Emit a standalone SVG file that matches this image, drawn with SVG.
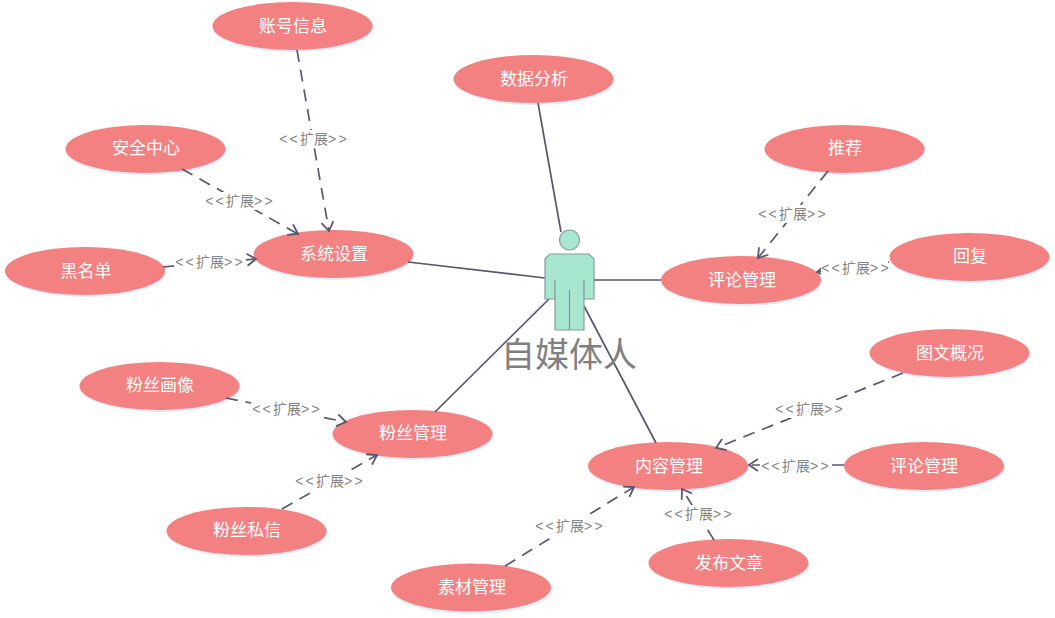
<svg xmlns="http://www.w3.org/2000/svg" width="1055" height="618" viewBox="0 0 1055 618">
<style>
.n ellipse.s{fill:#dfecf9}
.n ellipse.b{fill:#f48181}
.n text{font:17px "Noto Sans CJK SC","Liberation Sans",sans-serif;fill:#fff;text-anchor:middle}
.l{stroke:#5b5670;stroke-width:1.7;fill:none}
.d{stroke-dasharray:12 8}
.e{marker-end:url(#a)}
.t rect{fill:#fff}
.t text{font:14px "Liberation Sans","Noto Sans CJK SC",sans-serif;fill:#858585;text-anchor:middle}
.t tspan{letter-spacing:2.2px}
#actor .f{fill:#a7e6cf;stroke:#8a9a9e;stroke-width:1.2}
#actor .i{fill:none;stroke:#8a8f9e;stroke-width:1.2}
#actor text{font:34px "Noto Sans CJK SC","Liberation Sans",sans-serif;fill:#808080;text-anchor:middle}
</style>
<defs>
<marker id="a" markerUnits="userSpaceOnUse" markerWidth="16" markerHeight="16" refX="12" refY="8" orient="auto">
<path d="M3 2L12 8L3 14" fill="none" stroke="#5b5670" stroke-width="1.8"/>
</marker>
</defs>
<g id="n1" class="n"><ellipse class="s" cx="293" cy="28" rx="80" ry="24"/><ellipse class="b" cx="292.500" cy="26" rx="80" ry="24"/><text x="293" y="32">账号信息</text></g>
<g id="n2" class="n"><ellipse class="s" cx="534.500" cy="81" rx="80" ry="24"/><ellipse class="b" cx="533.500" cy="79" rx="80" ry="24"/><text x="534" y="85">数据分析</text></g>
<g id="n3" class="n"><ellipse class="s" cx="146" cy="151" rx="80" ry="24"/><ellipse class="b" cx="145.500" cy="149" rx="80" ry="24"/><text x="146" y="154">安全中心</text></g>
<g id="n4" class="n"><ellipse class="s" cx="845.500" cy="151" rx="80" ry="24"/><ellipse class="b" cx="844.500" cy="149" rx="80" ry="24"/><text x="845" y="154">推荐</text></g>
<g id="n5" class="n"><ellipse class="s" cx="334" cy="256" rx="80" ry="24"/><ellipse class="b" cx="333.500" cy="254" rx="80" ry="24"/><text x="334" y="260">系统设置</text></g>
<g id="n6" class="n"><ellipse class="s" cx="86" cy="273" rx="80" ry="24"/><ellipse class="b" cx="85" cy="271" rx="80" ry="24"/><text x="86" y="277">黑名单</text></g>
<g id="n7" class="n"><ellipse class="s" cx="970" cy="259" rx="80" ry="24"/><ellipse class="b" cx="969.500" cy="257" rx="80" ry="24"/><text x="970" y="262">回复</text></g>
<g id="n8" class="n"><ellipse class="s" cx="742" cy="282" rx="80" ry="24"/><ellipse class="b" cx="741" cy="280" rx="80" ry="24"/><text x="742" y="286">评论管理</text></g>
<g id="n9" class="n"><ellipse class="s" cx="950.500" cy="355" rx="80" ry="24"/><ellipse class="b" cx="949.500" cy="353" rx="80" ry="24"/><text x="950" y="359">图文概况</text></g>
<g id="n10" class="n"><ellipse class="s" cx="160.500" cy="388" rx="80" ry="24"/><ellipse class="b" cx="159.500" cy="386" rx="80" ry="24"/><text x="160" y="391">粉丝画像</text></g>
<g id="n11" class="n"><ellipse class="s" cx="413.500" cy="436" rx="80" ry="24"/><ellipse class="b" cx="412.500" cy="434" rx="80" ry="24"/><text x="413" y="439">粉丝管理</text></g>
<g id="n12" class="n"><ellipse class="s" cx="669" cy="468" rx="80" ry="24"/><ellipse class="b" cx="668" cy="466" rx="80" ry="24"/><text x="669" y="472">内容管理</text></g>
<g id="n13" class="n"><ellipse class="s" cx="925" cy="468" rx="80" ry="24"/><ellipse class="b" cx="924" cy="466" rx="80" ry="24"/><text x="924" y="472">评论管理</text></g>
<g id="n14" class="n"><ellipse class="s" cx="247.500" cy="533" rx="80" ry="24"/><ellipse class="b" cx="246.500" cy="531" rx="80" ry="24"/><text x="247" y="536">粉丝私信</text></g>
<g id="n15" class="n"><ellipse class="s" cx="729.500" cy="565" rx="80" ry="24"/><ellipse class="b" cx="728.500" cy="563" rx="80" ry="24"/><text x="729" y="569">发布文章</text></g>
<g id="n16" class="n"><ellipse class="s" cx="472" cy="590" rx="80" ry="24"/><ellipse class="b" cx="471" cy="587.500" rx="80" ry="24"/><text x="472" y="593">素材管理</text></g>
<g id="connectors">
<path class="l" d="M538 103L561 232"/>
<path class="l" d="M408 262L545 278"/>
<path class="l" d="M594 280H661"/>
<path class="l" d="M435 412L549 299"/>
<path class="l" d="M584 306L656 443"/>
<path class="l d e" d="M297 50L329 231"/>
<path class="l d e" d="M182 169L298 234"/>
<path class="l d e" d="M163 267L256 259"/>
<path class="l d e" d="M828 171L758 258"/>
<path class="l d e" d="M889 262L817 272"/>
<path class="l d e" d="M903 373L716 448"/>
<path class="l d e" d="M844 465H749"/>
<path class="l d e" d="M714 540L682 489"/>
<path class="l d e" d="M505 566L634 487"/>
<path class="l d e" d="M226 398L346 422"/>
<path class="l d e" d="M282 509L377 455"/>
</g>
<g class="t">
<g><rect x="278" y="130" width="72" height="18"/><text x="314" y="144"><tspan>&lt;&lt;</tspan>扩展<tspan>&gt;&gt;</tspan></text></g>
<g><rect x="204" y="192" width="72" height="18"/><text x="240" y="206"><tspan>&lt;&lt;</tspan>扩展<tspan>&gt;&gt;</tspan></text></g>
<g><rect x="174" y="253" width="72" height="18"/><text x="210" y="267"><tspan>&lt;&lt;</tspan>扩展<tspan>&gt;&gt;</tspan></text></g>
<g><rect x="757" y="205" width="72" height="18"/><text x="793" y="219"><tspan>&lt;&lt;</tspan>扩展<tspan>&gt;&gt;</tspan></text></g>
<g><rect x="821" y="259" width="67" height="18"/><text x="856" y="273"><tspan>&lt;&lt;</tspan>扩展<tspan>&gt;&gt;</tspan></text></g>
<g><rect x="774" y="400" width="72" height="18"/><text x="810" y="414"><tspan>&lt;&lt;</tspan>扩展<tspan>&gt;&gt;</tspan></text></g>
<g><rect x="760" y="457" width="72" height="18"/><text x="796" y="471"><tspan>&lt;&lt;</tspan>扩展<tspan>&gt;&gt;</tspan></text></g>
<g><rect x="663" y="505" width="72" height="18"/><text x="699" y="519"><tspan>&lt;&lt;</tspan>扩展<tspan>&gt;&gt;</tspan></text></g>
<g><rect x="534" y="517" width="72" height="18"/><text x="570" y="531"><tspan>&lt;&lt;</tspan>扩展<tspan>&gt;&gt;</tspan></text></g>
<g><rect x="251" y="400" width="72" height="18"/><text x="287" y="414"><tspan>&lt;&lt;</tspan>扩展<tspan>&gt;&gt;</tspan></text></g>
<g><rect x="294" y="472" width="72" height="18"/><text x="330" y="486"><tspan>&lt;&lt;</tspan>扩展<tspan>&gt;&gt;</tspan></text></g>
</g>
<g id="actor">
<circle class="f" cx="569.500" cy="240" r="10"/>
<path class="f" d="M550 254H589L594 259V299H584V330H555V299H545V259Z"/>
<path class="i" d="M555 280V299M584 280V299M569.500 290V330"/>
<text x="569" y="367">自媒体人</text>
</g>
</svg>
